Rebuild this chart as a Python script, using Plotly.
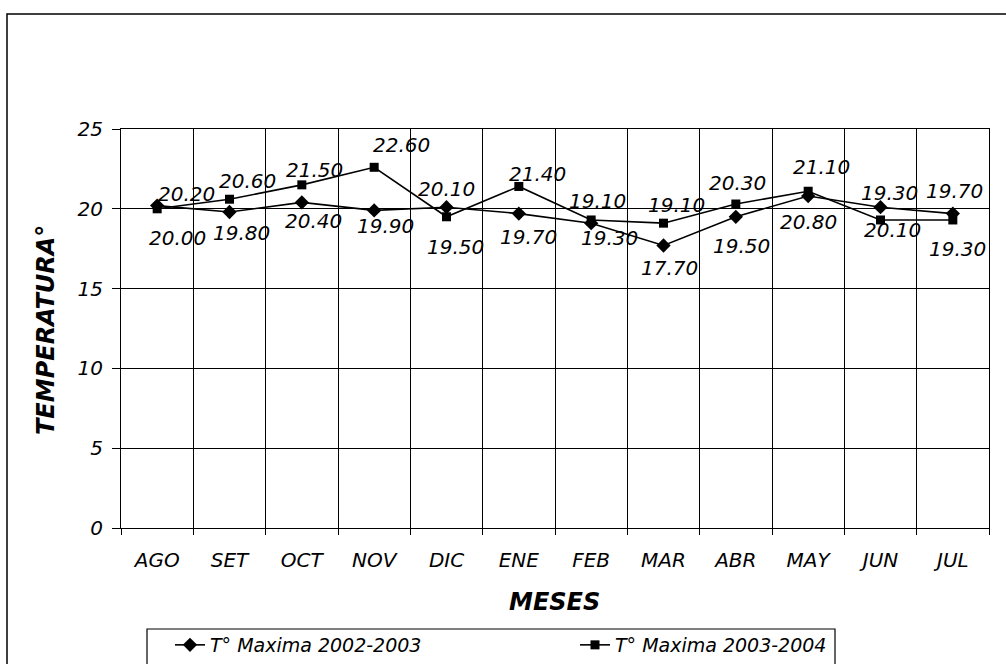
import plotly.graph_objects as go

meses = ["AGO", "SET", "OCT", "NOV", "DIC", "ENE", "FEB", "MAR", "ABR", "MAY", "JUN", "JUL"]
t_2002_2003 = [20.2, 19.8, 20.4, 19.9, 20.1, 19.7, 19.1, 17.7, 19.5, 20.8, 20.1, 19.7]
t_2003_2004 = [20.0, 20.6, 21.5, 22.6, 19.5, 21.4, 19.3, 19.1, 20.3, 21.1, 19.3, 19.3]
y_ticks = [0, 5, 10, 15, 20, 25]

# label offsets (pixels: right, up) relative to each marker
off_2002 = [(29, 12), (12, -21), (12, -19), (11, -16), (0, 18), (10, -23),
            (6, 22), (6, -22), (6, -29), (0, -26), (12, -23), (2, 23)]
off_2003 = [(20, -29), (18, 18), (13, 15), (27, 22), (9, -30), (19, 12),
            (18, -18), (13, 18), (2, 21), (13, 24), (9, 27), (5, -29)]

FONT = "DejaVu Sans, Verdana, sans-serif"
lbl_font = dict(family=FONT, size=20, color="black", style="italic")

fig = go.Figure()
fig.add_trace(go.Scatter(
    x=meses, y=t_2002_2003, mode="lines+markers", name="T° Maxima 2002-2003",
    line=dict(color="black", width=1.6),
    marker=dict(symbol="diamond", size=11, color="black"),
    legend="legend", cliponaxis=False,
))
fig.add_trace(go.Scatter(
    x=meses, y=t_2003_2004, mode="lines+markers", name="T° Maxima 2003-2004",
    line=dict(color="black", width=1.6),
    marker=dict(symbol="square", size=9, color="black"),
    legend="legend2", cliponaxis=False,
))

annotations = []
for series, offs in ((t_2002_2003, off_2002), (t_2003_2004, off_2003)):
    for m, v, (dx, dy) in zip(meses, series, offs):
        annotations.append(dict(
            x=m, y=v, xref="x", yref="y", text=f"{v:.2f}", showarrow=False,
            xshift=dx, yshift=dy, xanchor="center", yanchor="middle", font=lbl_font,
        ))

L, R, T, B = 121, 17, 129, 136
W, H = 1006, 664
pw, ph = W - L - R, H - T - B

def px_x(p):
    return (p - L) / pw

def px_y(p):
    return (H - B - p) / ph

title_font = dict(family=FONT, size=24, color="black", style="italic", weight="bold")
leg_font = dict(family=FONT, size=19, color="black", style="italic")

annotations += [
    dict(text="MESES", xref="paper", yref="paper", x=px_x(554), y=px_y(602),
         xanchor="center", yanchor="middle", showarrow=False, font=title_font),
    dict(text="TEMPERATURA°", xref="paper", yref="paper", x=px_x(46), y=px_y(330),
         xanchor="center", yanchor="middle", showarrow=False, textangle=-90, font=title_font),
]

fig.update_layout(
    width=W, height=H,
    margin=dict(l=L, r=R, t=T, b=B, pad=0, autoexpand=False),
    paper_bgcolor="white", plot_bgcolor="white",
    font=dict(family=FONT, color="black"),
    showlegend=True,
    legend=dict(
        orientation="h", x=px_x(170), y=px_y(626), xanchor="left", yanchor="top",
        borderwidth=0, font=leg_font, bgcolor="rgba(0,0,0,0)",
    ),
    legend2=dict(
        orientation="h", x=px_x(575), y=px_y(626), xanchor="left", yanchor="top",
        borderwidth=0, font=leg_font, bgcolor="rgba(0,0,0,0)",
    ),
    xaxis=dict(
        type="category", range=[-0.5, len(meses) - 0.5], tickson="boundaries",
        showgrid=True, gridcolor="black", gridwidth=1,
        showline=True, linecolor="black", linewidth=1, mirror=True,
        ticks="outside", ticklen=6, tickcolor="black",
        tickfont=dict(family=FONT, size=20, color="black", style="italic"),
        ticklabelstandoff=14,
    ),
    yaxis=dict(
        range=[0, 25], tickvals=y_ticks, showgrid=True, gridcolor="black", gridwidth=1,
        showline=True, linecolor="black", linewidth=1, mirror=True, zeroline=False,
        ticks="outside", ticklen=8, tickcolor="black",
        tickfont=dict(family=FONT, size=20, color="black", style="italic"),
        ticklabelstandoff=5,
    ),
    annotations=annotations,
    shapes=[
        dict(type="rect", xref="paper", yref="paper", x0=px_x(7), x1=px_x(1015),
             y0=px_y(690), y1=px_y(14), line=dict(color="black", width=1.5), layer="below"),
        dict(type="rect", xref="paper", yref="paper", x0=px_x(147), x1=px_x(835),
             y0=px_y(690), y1=px_y(629), line=dict(color="black", width=1.2), layer="below"),
    ],
)

fig.write_html(
    "out.html",
    config={"displayModeBar": False},
    post_script="document.body.style.margin='0';document.body.style.overflow='hidden';",
)
